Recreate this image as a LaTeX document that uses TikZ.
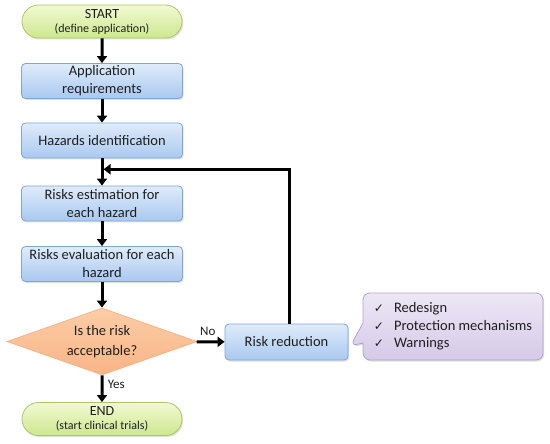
\documentclass[tikz,border=0pt]{standalone}
\usepackage{fontspec}
\setmainfont{Carlito}
\newfontfamily\symfont{DejaVu Sans}
\usetikzlibrary{shapes.geometric,shapes.callouts,shapes.misc,arrows.meta,shadows,calc}
\definecolor{txt}{HTML}{1F1F1F}
\definecolor{termtop}{HTML}{F2F9D2}
\definecolor{termbot}{HTML}{CDE88E}
\definecolor{termdraw}{HTML}{A9C86A}
\definecolor{proctop}{HTML}{DFEBFA}
\definecolor{procbot}{HTML}{A9C9F0}
\definecolor{procdraw}{HTML}{7EA6D8}
\definecolor{dectop}{HTML}{FCCDA6}
\definecolor{decbot}{HTML}{F8B486}
\definecolor{decdraw}{HTML}{F5B48A}
\definecolor{caltop}{HTML}{EDE7F5}
\definecolor{calbot}{HTML}{D6CAE8}
\definecolor{caldraw}{HTML}{B3A2CE}
\begin{document}
\begin{tikzpicture}[x=1pt,y=-1pt,
  every node/.style={text=txt},
  shadowed/.style={drop shadow={shadow xshift=1.2pt,shadow yshift=-1.5pt,opacity=0.25}},
  term/.style={rounded rectangle, minimum width=160pt, minimum height=33pt, inner sep=0pt,
    draw=termdraw, line width=0.8pt, top color=termtop, bottom color=termbot,
    align=center, font=\fontsize{14}{15}\selectfont, shadowed},
  proc/.style={rectangle, rounded corners=4pt, minimum width=161pt, minimum height=35pt, inner sep=0pt,
    draw=procdraw, line width=0.8pt, top color=proctop, bottom color=procbot,
    align=center, font=\fontsize{14.5}{18}\selectfont, shadowed},
  dec/.style={diamond, shape aspect=2.84, minimum width=190pt, minimum height=67pt, inner sep=0pt,
    draw=decdraw, line width=0.8pt, top color=dectop, bottom color=decbot,
    align=center, font=\fontsize{14.5}{20}\selectfont},
  note/.style={rectangle callout, rounded corners=7pt, minimum width=180pt, minimum height=67pt, inner sep=0pt,
    draw=caldraw, line width=0.8pt, top color=caltop, bottom color=calbot, callout pointer width=20pt,
    align=left, font=\fontsize{14.5}{17.5}\selectfont, shadowed},
  arr/.style={line width=3pt, -{Triangle[length=7pt,width=10pt]}},
  lbl/.style={font=\fontsize{13}{14}\selectfont}
]
\useasboundingbox (0,0) rectangle (550,444);

\node[term] (start) at (102,21.5) {START\\[-1pt]{\fontsize{12}{13}\selectfont (define application)}};
\node[proc] (req) at (102,81) {Application\\requirements};
\node[proc] (haz) at (102,140.5) {Hazards identification};
\node[proc] (est) at (102,203.5) {Risks estimation for\\each hazard};
\node[proc] (eval) at (102,264) {Risks evaluation for each\\hazard};
\node[dec] (acc) at (102,341.5) {Is the risk\\acceptable?};
\node[term] (end) at (102,419) {END\\[-1pt]{\fontsize{12}{13}\selectfont (start clinical trials)}};
\node[proc, minimum width=123pt, minimum height=36pt] (rr) at (286.5,342) {Risk reduction};
\node[note, callout absolute pointer={($(rr.east)+(2,4)$)}] (cal) at (453,326.5)
  {{\symfont\fontsize{12}{12}\selectfont ✓}\hspace{10pt}Redesign\\
   {\symfont\fontsize{12}{12}\selectfont ✓}\hspace{10pt}Protection mechanisms\\
   {\symfont\fontsize{12}{12}\selectfont ✓}\hspace{10pt}Warnings};

\coordinate (fb) at ($(haz.south)!0.4!(est.north)$);

\draw[arr] (start) -- (req);
\draw[arr] (req) -- (haz);
\draw[arr] (haz) -- (est);
\draw[arr] (est) -- (eval);
\draw[arr] (eval) -- (acc);
\draw[arr] (acc) -- node[lbl, right, pos=0.35, xshift=1pt] {Yes} (end);
\draw[arr] (acc) -- node[lbl, above, pos=0.4, yshift=1pt] {No} (rr);
\draw[arr] ([xshift=2.5pt]rr.north) |- ([xshift=1.5pt]fb);
\end{tikzpicture}
\end{document}
